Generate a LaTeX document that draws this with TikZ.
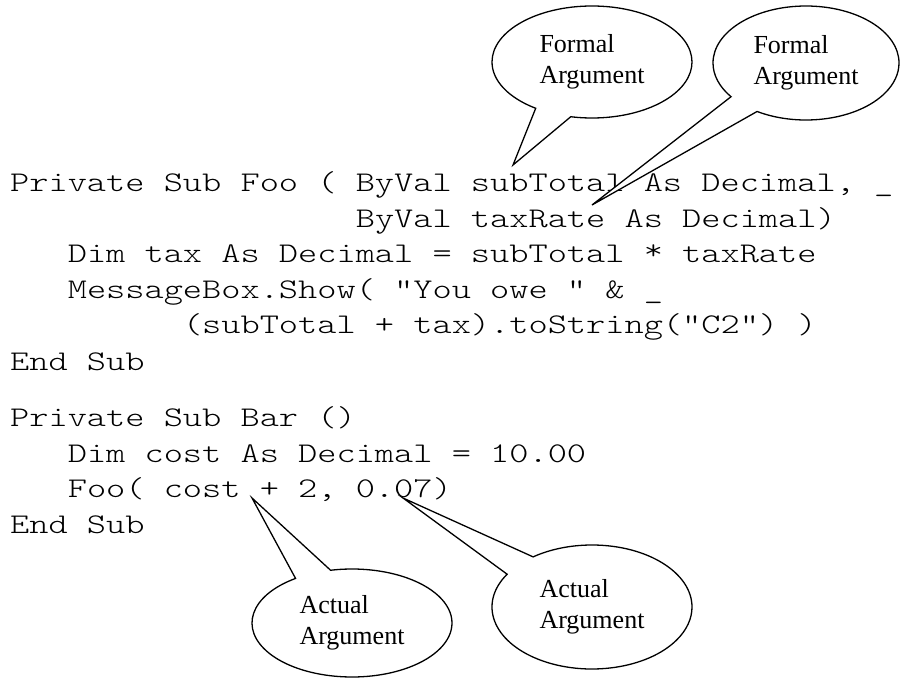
\documentclass[tikz,border=0pt]{standalone}
\usepackage{graphicx}
\usepackage{fontspec}
\setmainfont{Liberation Serif}
\setmonofont{lmmonolt10-regular.otf}
\usetikzlibrary{shapes.callouts}
\newcommand\codetxt[1]{\scalebox{1}[0.78]{#1}}
\newcommand\hiast{\raisebox{5pt}{*}}
\begin{document}
\begin{tikzpicture}[x=1pt,y=-1pt,
  code/.style={anchor=base west, inner sep=0pt, font=\ttfamily\fontsize{36.57}{40}\selectfont},
  bubble/.style={ellipse callout, draw=black, fill=white, line width=1.3pt,
    inner sep=0pt, align=left, font=\fontsize{26}{31}\selectfont,
    callout pointer arc=22}]
\useasboundingbox (0,0) rectangle (900,679);
% code lines (x = 10 + indent * 19.2)
\node[code] (l1)  at (10,192)    {\codetxt{Private Sub Foo ( ByVal subTotal As Decimal, \_}};
\node[code] (l2)  at (355.6,227.5) {\codetxt{ByVal taxRate As Decimal)}};
\node[code] (l3)  at (67.6,263)  {\codetxt{Dim tax As Decimal = subTotal \hiast{} taxRate}};
\node[code] (l4)  at (67.6,298.5)  {\codetxt{MessageBox.Show( "You owe " \& \_}};
\node[code] (l5)  at (182.8,334) {\codetxt{(subTotal + tax).toString("C2") )}};
\node[code] (l6)  at (10,370)    {\codetxt{End Sub}};
\node[code] (l7)  at (10,426.5)    {\codetxt{Private Sub Bar ()}};
\node[code] (l8)  at (67.6,462)  {\codetxt{Dim cost As Decimal = 10.00}};
\node[code] (l9)  at (67.6,497.5)  {\codetxt{Foo( cost + 2, 0.07)}};
\node[code] (l10) at (10,533)    {\codetxt{End Sub}};
% pointer tips
\coordinate (t1) at (513,165);
\coordinate (t2) at (592,205);
\coordinate (t3) at (252,498);
\coordinate (t4) at (403,498);
% callouts
\node[bubble, minimum width=200pt, minimum height=112pt, callout absolute pointer={(t1)}] (fa1) at (592,62) {Formal\\Argument};
\node[bubble, minimum width=186pt, minimum height=114pt, callout absolute pointer={(t2)}] (fa2) at (806,63) {Formal\\Argument};
\node[bubble, minimum width=200pt, minimum height=108pt, callout absolute pointer={(t3)}] (aa1) at (352,623) {Actual\\Argument};
\node[bubble, minimum width=200pt, minimum height=124pt, callout absolute pointer={(t4)}] (aa2) at (592,607) {Actual\\Argument};
\end{tikzpicture}
\end{document}
